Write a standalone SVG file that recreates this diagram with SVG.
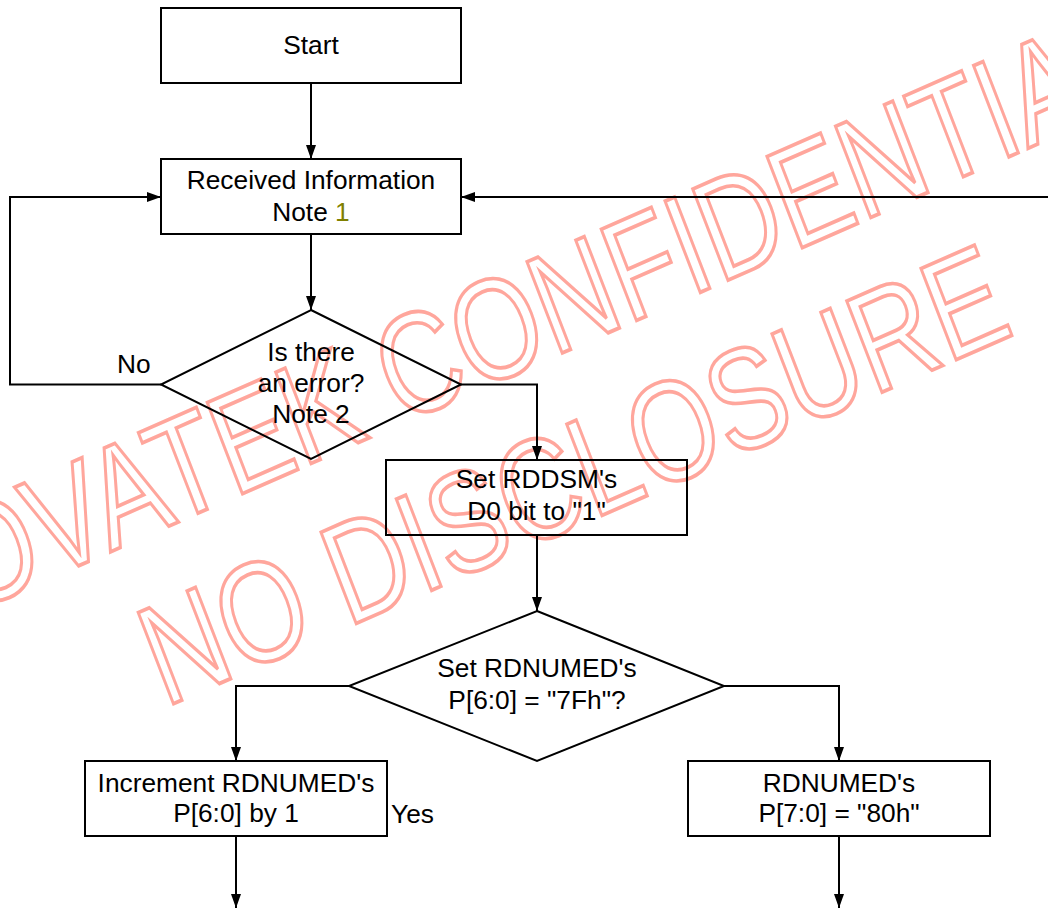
<svg xmlns="http://www.w3.org/2000/svg" width="1048" height="909" viewBox="0 0 1048 909">
  <style>
    .box { fill: none; stroke: #000; stroke-width: 2; }
    .lbl { font-family: "Liberation Sans", Arial, sans-serif; font-size: 26.3px; fill: #000; }
    .mid { text-anchor: middle; }
    .wire { fill: none; stroke: #000; stroke-width: 2; }
    .arrow { marker-end: url(#head); }
    .wm { font-family: "Liberation Sans", Arial, sans-serif; font-size: 100px; font-kerning: normal; fill: none; stroke: #ffa69c; stroke-width: 2.6; stroke-linejoin: miter; }
  </style>
  <defs>
    <marker id="head" markerUnits="userSpaceOnUse" markerWidth="14" markerHeight="10" refX="14" refY="5" orient="auto">
      <path d="M0,0 L14,5 L0,10 Z" fill="#000"/>
    </marker>
  </defs>

  <rect width="1048" height="909" fill="#fff"/>

  <!-- outlined, slanted watermark, behind the chart -->
  <g id="watermark" transform="matrix(1.028,-0.452,0.511,1.325,-104.9,646.5)">
    <text class="wm" x="0" y="0">NOVATEK CONFIDENTIAL</text>
    <text class="wm" x="205" y="116">NO DISCLOSURE</text>
  </g>

  <!-- connectors -->
  <g id="connectors">
    <path class="wire arrow" d="M311,83 V159"/>
    <path class="wire arrow" d="M311,234 V310"/>
    <path class="wire arrow" d="M161,384.5 H10 V197 H161"/>
    <path class="wire arrow" d="M1048,197 H461"/>
    <path class="wire arrow" d="M461,384.5 H537 V460"/>
    <path class="wire arrow" d="M537,535 V611"/>
    <path class="wire arrow" d="M349,686 H236 V761"/>
    <path class="wire arrow" d="M724,686 H839 V761"/>
    <path class="wire arrow" d="M236,836 V908"/>
    <path class="wire arrow" d="M839,836 V908"/>
    <text class="lbl" x="117" y="373">No</text>
    <text class="lbl" x="391" y="823">Yes</text>
  </g>

  <g id="start">
    <rect class="box" x="161" y="8" width="300" height="75"/>
    <text class="lbl mid" x="311" y="54">Start</text>
  </g>

  <g id="received">
    <rect class="box" x="161" y="159" width="300" height="75"/>
    <text class="lbl mid" x="311" y="189">Received Information</text>
    <text class="lbl mid" x="311" y="221">Note <tspan fill="#808000">1</tspan></text>
  </g>

  <g id="error-check">
    <polygon class="box" points="311,310 461,384.5 311,459 161,384.5"/>
    <text class="lbl mid" x="311" y="361">Is there</text>
    <text class="lbl mid" x="311" y="392">an error?</text>
    <text class="lbl mid" x="311" y="423">Note 2</text>
  </g>

  <g id="set-rddsm">
    <rect class="box" x="386" y="460" width="301" height="75"/>
    <text class="lbl mid" x="536.5" y="488">Set RDDSM's</text>
    <text class="lbl mid" x="536.5" y="520">D0 bit to "1"</text>
  </g>

  <g id="rdnumed-check">
    <polygon class="box" points="537,611 724,686 537,761 349,686"/>
    <text class="lbl mid" x="537" y="677">Set RDNUMED's</text>
    <text class="lbl mid" x="537" y="709">P[6:0] = "7Fh"?</text>
  </g>

  <g id="increment">
    <rect class="box" x="85" y="761" width="302" height="75"/>
    <text class="lbl mid" x="236" y="792">Increment RDNUMED's</text>
    <text class="lbl mid" x="236" y="822">P[6:0] by 1</text>
  </g>

  <g id="set-80h">
    <rect class="box" x="688" y="761" width="302" height="75"/>
    <text class="lbl mid" x="839" y="792">RDNUMED's</text>
    <text class="lbl mid" x="839" y="822">P[7:0] = "80h"</text>
  </g>
</svg>
